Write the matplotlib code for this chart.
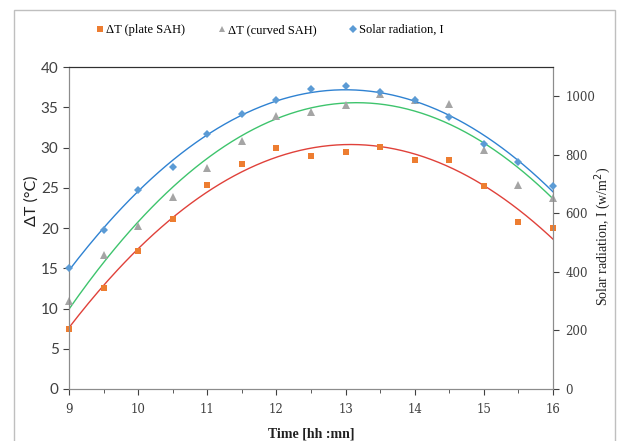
import numpy as np
import matplotlib
matplotlib.use("Agg")
import matplotlib.pyplot as plt
from matplotlib.lines import Line2D
from matplotlib.patches import Rectangle

# measured data, 9:00 to 16:00 every half hour
time_h = [9, 9.5, 10, 10.5, 11, 11.5, 12, 12.5, 13, 13.5, 14, 14.5, 15, 15.5, 16]
dt_plate = [7.5, 12.5, 17.1, 21.1, 25.3, 28.0, 30.0, 29.0, 29.4, 30.1, 28.4, 28.4, 25.2, 20.8, 20.0]
dt_curved = [10.9, 16.7, 20.2, 23.8, 27.4, 30.8, 33.9, 34.4, 35.3, 36.6, 35.9, 35.4, 29.7, 25.4, 23.7]
radiation = [415, 543, 680, 757, 870, 939, 987, 1025, 1034, 1015, 987, 929, 836, 774, 695]

x_ticks = [9, 10, 11, 12, 13, 14, 15, 16]

fig = plt.figure(figsize=(6.18, 4.41), dpi=100)
ax = fig.add_axes([69 / 618, 1 - 389 / 441, (553 - 69) / 618, (389 - 67) / 441])
ax2 = ax.twinx()

# second order trendlines through each series
t = np.array(time_h)
tt = np.linspace(9, 16, 200)
fit_plate = np.polyval(np.polyfit(t, dt_plate, 2), tt)
fit_curved = np.polyval(np.polyfit(t, dt_curved, 2), tt)
fit_rad = np.polyval(np.polyfit(t, radiation, 2), tt)

ax.plot(tt, fit_plate, color="#e0413a", lw=1.0, zorder=2)
ax.plot(tt, fit_curved, color="#3ec46d", lw=1.0, zorder=2)
ax.plot(time_h, dt_plate, "s", color="#ed7d31", ms=4.3, mew=0, zorder=3, clip_on=False)
ax.plot(time_h, dt_curved, "^", color="#a5a5a5", ms=5.5, mew=0, zorder=3, clip_on=False)
ax2.plot(tt, fit_rad, color="#2f82d2", lw=1.0, zorder=2)
ax2.plot(time_h, radiation, "D", color="#5b9bd5", ms=4.3, mew=0, zorder=3, clip_on=False)

ax.set_xlim(9, 16)
ax.set_ylim(0, 40)
ax2.set_ylim(0, 1100)
ax.set_xticks(x_ticks)
ax.set_xticks(np.arange(9.5, 16, 1), minor=True)
ax.set_yticks(range(0, 41, 5))
ax2.set_yticks(range(0, 1001, 200))

grey = "#8c8c8c"
for a in (ax, ax2):
    for side in ("left", "right", "bottom"):
        a.spines[side].set_color(grey)
    a.spines["top"].set_color("#303030")
    a.tick_params(which="both", color=grey, length=4, direction="out")
    a.tick_params(colors="#404040", which="both", labelcolor="#404040")

ax.tick_params(axis="x", which="major", labelsize=8.5, pad=6)
ax.tick_params(axis="x", which="minor", length=3)
for lab in ax.get_xticklabels():
    lab.set_fontfamily("DejaVu Serif")
for lab in ax.get_yticklabels():
    lab.set_fontfamily("Lato")
    lab.set_fontsize(11)
ax2.tick_params(axis="y", labelsize=8.5, pad=5)
for lab in ax2.get_yticklabels():
    lab.set_fontfamily("DejaVu Serif")

ax.set_xlabel("Time [hh :mn]", family="Liberation Serif", fontsize=10,
              fontweight="bold", color="#202020", labelpad=8)
ax.set_ylabel("ΔT (°C)", family="Lato", fontsize=11.5, color="#202020")
ax.yaxis.set_label_coords(-0.062, 0.584)
ax2.set_ylabel("Solar radiation, I (w/m$^2$)", family="Liberation Serif",
               fontsize=10, color="#202020")
ax2.yaxis.set_label_coords(1.08, 0.475)

handles = [
    Line2D([], [], marker="s", ls="none", color="#ed7d31", ms=4, mew=0),
    Line2D([], [], marker="^", ls="none", color="#a5a5a5", ms=5, mew=0),
    Line2D([], [], marker="D", ls="none", color="#5b9bd5", ms=4, mew=0),
]
labels = ["ΔT (plate SAH)", "ΔT (curved SAH)", "Solar radiation, I"]
fig.legend(handles, labels, loc="center", bbox_to_anchor=(270 / 618, 1 - 30 / 441),
           ncol=3, frameon=False, handlelength=0.6, handletextpad=0.2,
           columnspacing=2.6, prop={"family": "Liberation Serif", "size": 9})

# outer chart border
fig.patches.append(Rectangle((14 / 618, -0.05), (615 - 14) / 618, 1 - 10 / 441 + 0.05,
                             transform=fig.transFigure, fill=False,
                             edgecolor="#bfbfbf", lw=1.0))

fig.savefig("out.png", dpi=100)
